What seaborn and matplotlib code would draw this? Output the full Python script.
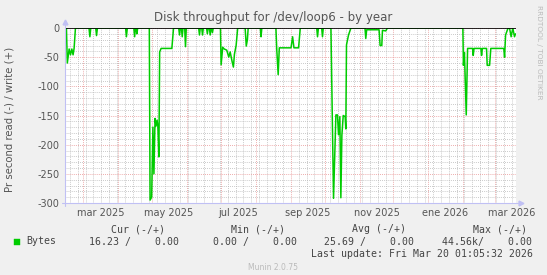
import matplotlib
matplotlib.use('Agg')
import matplotlib.pyplot as plt
import matplotlib.dates as mdates
from matplotlib.ticker import FixedLocator, MultipleLocator
from matplotlib.lines import Line2D
import seaborn as sns
import pandas as pd

# ---------------- data ----------------
start_date = '2025-02-13'
period_days = 400
day_offsets = [
    1.0, 1.8, 3.4, 4.6, 5.8, 6.9, 7.8, 9.0,
    21.0, 21.8, 22.6,
    27.0, 27.7, 28.5,
    53.5, 54.2, 55.0,
    60.8, 61.5, 62.2, 63.0, 63.5, 64.2,
    74.5, 75.2, 76.6, 77.7, 78.6, 79.6, 80.5, 81.4, 82.1, 83.0, 83.7, 85.0, 94.5, 96.0,
    100.6, 101.3, 102.0, 103.0, 103.7, 104.4, 105.9, 106.6, 107.3,
    118.3, 119.0, 119.7, 121.0, 121.7, 122.4, 125.3, 126.0, 126.7, 127.8, 128.5, 129.2, 129.8, 130.5, 131.2,
    137.6, 138.2, 139.6, 141.0, 143.2, 145.0, 146.2, 148.0, 149.1, 150.0, 151.5, 152.9,
    159.5, 160.5, 161.5, 162.2,
    173.0, 173.6, 174.3,
    186.8, 187.5, 188.8, 189.8, 200.2, 201.6, 202.8, 206.9, 208.4,
    223.0, 223.7, 224.5, 227.4, 228.1, 228.8,
    235.6, 237.9, 240.0, 241.4, 242.3, 243.5, 244.4, 245.3, 246.5, 248.2, 248.8, 249.4, 251.2, 253.3,
    265.8, 266.5, 267.3, 278.3, 279.2, 280.7, 281.3, 284.2, 285.7,
    352.6, 353.1, 354.0, 355.6, 356.8, 361.2, 361.8, 362.5, 368.6, 369.2, 369.9, 373.6, 374.2, 376.3,
    377.4, 388.9, 389.6, 390.5, 392.7, 394.0, 395.4, 396.9, 398.4, 399.3,
]
read_values = [
    0, -60, -36, -46, -36, -46, -35, 0,
    0, -15, 0,
    0, -13, 0,
    0, -15, 0,
    0, -15, 0, 0, -10, 0,
    0, -295, -290, -170, -250, -155, -168, -158, -168, -221, -41, -35, -35, 0,
    0, -12, 0, 0, -15, 0, 0, -32, 0,
    0, -12, 0, 0, -12, 0, 0, -10, 0, 0, -12, 0, 0, -8, 0,
    0, -63, -33, -36, -38, -50, -41, -58, -67, -45, -30, 0,
    0, -31, -20, 0,
    0, -15, 0,
    0, -35, -80, -34, -34, -15, -34, -34, 0,
    0, -15, 0, 0, -15, 0,
    0, -292, -149, -149, -183, -152, -291, -184, -150, -152, -173, -29, -12, 0,
    0, -18, -3, -3, -30, -30, -4, -5, 0,
    0, -64, -42, -149, -35, -35, -47, -35, -35, -47, -35, -35, -64, -64,
    -35, -35, -50, -12, 0, 0, -15, 0, -15, -10,
]
y_ticks = [0, -50, -100, -150, -200, -250, -300]
y_tick_labels = ['0', '-50', '-100', '-150', '-200', '-250', '-300']
x_label_dates = ['2025-03-16', '2025-05-16', '2025-07-16', '2025-09-16',
                 '2025-11-16', '2026-01-16', '2026-03-16']
x_label_texts = ['mar 2025', 'may 2025', 'jul 2025', 'sep 2025',
                 'nov 2025', 'ene 2026', 'mar 2026']

legend_headers = ['Cur (-/+)', 'Min (-/+)', 'Avg (-/+)', 'Max (-/+)']
legend_series = 'Bytes'
legend_values = ['16.23 /    0.00', '0.00 /    0.00', '25.69 /    0.00', '44.56k/    0.00']
last_update = 'Last update: Fri Mar 20 01:05:32 2026'

# ---------------- figure ----------------
sns.set_style('white')
plt.rcParams['font.family'] = ['DejaVu Sans']
plt.rcParams['axes.unicode_minus'] = False

W, H = 547, 275
fig = plt.figure(figsize=(W / 100, H / 100), dpi=100, facecolor='#f0f0f0')
x0, x1, ytop, ybot = 65.3, 516.3, 28, 203
ax = fig.add_axes([x0 / W, (H - ybot) / H, (x1 - x0) / W, (ybot - ytop) / H])
ax.set_facecolor('white')

t0 = pd.Timestamp(start_date)
df = pd.DataFrame({'time': t0 + pd.to_timedelta(day_offsets, unit='D'),
                   'bytes': read_values})

sns.lineplot(data=df, x='time', y='bytes', ax=ax, color='#00cc00', lw=1.1,
             estimator=None, sort=False, zorder=5)
ax.axhline(0, color='black', lw=0.6, zorder=6)

ax.set_xlim(t0, t0 + pd.Timedelta(days=period_days))
ax.set_ylim(-300, 0)

ax.xaxis.set_major_locator(mdates.MonthLocator())
ax.xaxis.set_minor_locator(mdates.WeekdayLocator(byweekday=mdates.MO))
ax.yaxis.set_major_locator(FixedLocator(y_ticks))
ax.yaxis.set_minor_locator(MultipleLocator(10))
ax.grid(which='minor', color='#b8b8b8', lw=0.6, ls=(0, (1, 1.5)))
ax.grid(which='major', color='#e89090', lw=0.6, ls=(0, (1, 1.5)))
ax.set_axisbelow(True)
ax.tick_params(which='both', length=0)
ax.set_xticklabels([])
ax.set_yticklabels(y_tick_labels, fontsize=7, color='#555555')
ax.tick_params(axis='y', pad=4)
ax.set_xlabel('')
ax.set_ylabel('')

for s in ['top', 'right', 'left', 'bottom']:
    ax.spines[s].set_visible(False)

# axis lines with arrows (pixel coords)
def px(x, y):
    return (x / W, 1 - y / H)

axis_col = '#c0c0f4'
fig.add_artist(Line2D([px(62, ybot)[0], px(520, ybot)[0]], [px(0, ybot)[1]] * 2,
                      color=axis_col, lw=0.8))
fig.add_artist(Line2D([px(x0, 0)[0]] * 2, [px(0, ybot + 3)[1], px(0, 24)[1]],
                      color=axis_col, lw=0.8))
fig.add_artist(Line2D([px(521, 0)[0]], [px(0, ybot)[1]], marker='>', ms=3.5,
                      color=axis_col, mec=axis_col))
fig.add_artist(Line2D([px(x0, 0)[0]], [px(0, 22)[1]], marker='^', ms=3.5,
                      color=axis_col, mec=axis_col))

xt = ax.get_xaxis_transform()
for d, lab in zip(x_label_dates, x_label_texts):
    ax.text(mdates.date2num(pd.Timestamp(d)), -10 / (ybot - ytop), lab,
            transform=xt, ha='center', va='center', fontsize=7, color='#555555')

fig.text(0.5, 1 - 18 / H, 'Disk throughput for /dev/loop6 - by year',
         ha='center', va='center', fontsize=8.5, color='#555555')
fig.text(10 / W, 1 - 119 / H, 'Pr second read (-) / write (+)', rotation=90,
         ha='center', va='center', fontsize=7.3, color='#555555')
fig.text(539 / W, 1 - 5 / H, 'RRDTOOL / TOBI OETIKER', rotation=270,
         ha='center', va='top', fontsize=5.3, color='#bbbbbb')

mono = dict(family='DejaVu Sans Mono', fontsize=7.1, color='#444444', va='center')
for x, h in zip([111, 231, 352, 473], legend_headers):
    fig.text(x / W, 1 - 229 / H, h, ha='left', **mono)
fig.patches.append(plt.Rectangle(px(14, 245), 6 / W, 6 / H, transform=fig.transFigure,
                                 facecolor='#00cc00', edgecolor='#00cc00', lw=0.3))
fig.text(26 / W, 1 - 241.5 / H, legend_series, ha='left', **mono)
for x, v in zip([89, 213, 324, 442], legend_values):
    fig.text(x / W, 1 - 241.5 / H, v, ha='left', **mono)
fig.text(533 / W, 1 - 254 / H, last_update, ha='right', **mono)
fig.text(273 / W, 1 - 267.5 / H, 'Munin 2.0.75', ha='center', va='center',
         fontsize=5.5, color='#bbbbbb')

fig.savefig('out.png', dpi=100, facecolor=fig.get_facecolor())
